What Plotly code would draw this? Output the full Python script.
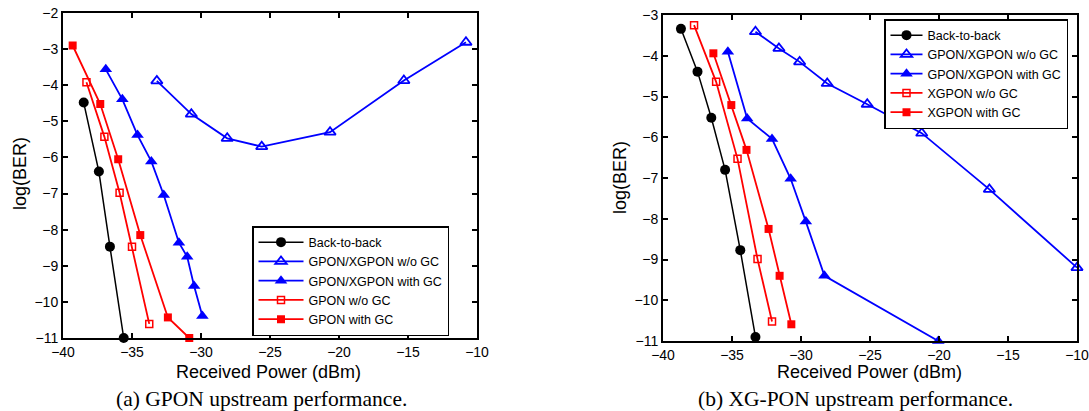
import plotly.graph_objects as go

# ---------------- data: (a) GPON upstream ----------------
a_b2b_x = [-38.5, -37.4, -36.6, -35.6]
a_b2b_y = [-4.48, -6.39, -8.47, -11.0]

a_gx_wo_x = [-33.2, -30.7, -28.1, -25.6, -20.65, -15.3, -10.8]
a_gx_wo_y = [-3.88, -4.80, -5.47, -5.70, -5.30, -3.87, -2.81]

a_gx_w_x = [-36.9, -35.7, -34.6, -33.6, -32.7, -31.6, -31.0, -30.5, -29.9]
a_gx_w_y = [-3.56, -4.39, -5.38, -6.11, -7.04, -8.36, -8.75, -9.56, -10.39]

a_g_wo_x = [-38.3, -37.0, -35.9, -35.0, -33.75]
a_g_wo_y = [-3.92, -5.43, -6.98, -8.47, -10.61]

a_g_w_x = [-39.3, -37.3, -36.0, -34.4, -32.4, -30.85]
a_g_w_y = [-2.90, -4.52, -6.05, -8.15, -10.43, -11.0]

# ---------------- data: (b) XG-PON upstream ----------------
b_b2b_x = [-38.7, -37.5, -36.5, -35.5, -34.4, -33.3]
b_b2b_y = [-3.34, -4.39, -5.52, -6.80, -8.77, -10.90]

b_gx_wo_x = [-33.3, -31.6, -30.1, -28.1, -25.2, -21.25, -16.35, -10.0]
b_gx_wo_y = [-3.41, -3.82, -4.15, -4.68, -5.19, -5.90, -7.28, -9.20]

b_gx_w_x = [-35.3, -33.9, -32.1, -30.75, -29.65, -28.3, -20.05]
b_gx_w_y = [-3.90, -5.54, -6.04, -7.02, -8.07, -9.40, -11.0]

b_x_wo_x = [-37.75, -36.15, -34.6, -33.15, -32.1]
b_x_wo_y = [-3.25, -4.64, -6.53, -8.99, -10.52]

b_x_w_x = [-36.35, -35.05, -33.95, -32.35, -31.55, -30.7]
b_x_w_y = [-3.94, -5.21, -6.31, -8.25, -9.40, -10.59]

names_a = ["Back-to-back", "GPON/XGPON w/o GC", "GPON/XGPON with GC",
           "GPON w/o GC", "GPON with GC"]
names_b = ["Back-to-back", "GPON/XGPON w/o GC", "GPON/XGPON with GC",
           "XGPON w/o GC", "XGPON with GC"]

x_ticks = [-40, -35, -30, -25, -20, -15, -10]

BLUE = "#0000FF"
RED = "#FF0000"
BLACK = "#000000"

styles = [
    dict(color=BLACK, symbol="circle", size=10, lw=1.5, mlw=0),
    dict(color=BLUE, symbol="triangle-up-open", size=10, lw=1.8, mlw=1.8),
    dict(color=BLUE, symbol="triangle-up", size=11, lw=1.8, mlw=0),
    dict(color=RED, symbol="square-open", size=7, lw=1.8, mlw=1.5),
    dict(color=RED, symbol="square", size=8, lw=1.8, mlw=0),
]

fig = go.Figure()

series_a = [(a_b2b_x, a_b2b_y), (a_gx_wo_x, a_gx_wo_y), (a_gx_w_x, a_gx_w_y),
            (a_g_wo_x, a_g_wo_y), (a_g_w_x, a_g_w_y)]
series_b = [(b_b2b_x, b_b2b_y), (b_gx_wo_x, b_gx_wo_y), (b_gx_w_x, b_gx_w_y),
            (b_x_wo_x, b_x_wo_y), (b_x_w_x, b_x_w_y)]

for (xs, ys), nm, st in zip(series_a, names_a, styles):
    fig.add_trace(go.Scatter(
        x=xs, y=ys, name=nm, mode="lines+markers", xaxis="x", yaxis="y",
        legend="legend", cliponaxis=False,
        line=dict(color=st["color"], width=st["lw"]),
        marker=dict(color=st["color"], symbol=st["symbol"], size=st["size"],
                    line=dict(color=st["color"], width=st["mlw"]))))

for (xs, ys), nm, st in zip(series_b, names_b, styles):
    fig.add_trace(go.Scatter(
        x=xs, y=ys, name=nm, mode="lines+markers", xaxis="x2", yaxis="y2",
        legend="legend2", cliponaxis=False,
        line=dict(color=st["color"], width=st["lw"]),
        marker=dict(color=st["color"], symbol=st["symbol"], size=st["size"],
                    line=dict(color=st["color"], width=st["mlw"]))))

W, H = 1089, 411

def px(v):
    return v / W

def py(v):
    return 1 - v / H

axis_common = dict(
    showline=True, linecolor="black", linewidth=2, mirror="ticks",
    ticks="inside", ticklen=5, tickwidth=1.5, tickcolor="black",
    showgrid=False, zeroline=False, automargin=False,
    ticklabeloverflow="allow",
    tickfont=dict(family="Liberation Sans, Arial, sans-serif", size=14, color="black"),
)

legend_common = dict(
    bgcolor="white", bordercolor="black", borderwidth=1.5,
    font=dict(family="Liberation Sans, Arial, sans-serif", size=12.5, color="black"),
    xanchor="left", yanchor="top", tracegroupgap=0,
)

fig.update_layout(
    width=W, height=H,
    margin=dict(l=0, r=0, t=0, b=0, autoexpand=False),
    paper_bgcolor="white", plot_bgcolor="white",
    xaxis=dict(domain=[px(63), px(477)], range=[-40, -10], tickvals=x_ticks,
               anchor="y", **axis_common),
    yaxis=dict(domain=[py(338), py(13)], range=[-11, -2], dtick=1,
               anchor="x", **axis_common),
    xaxis2=dict(domain=[px(663), px(1077)], range=[-40, -10], tickvals=x_ticks,
                anchor="y2", **axis_common),
    yaxis2=dict(domain=[py(341), py(15)], range=[-11, -3], dtick=1,
                anchor="x2", **axis_common),
    legend=dict(x=px(252), y=py(226), itemwidth=45, **legend_common),
    legend2=dict(x=px(884), y=py(19), itemwidth=32, **legend_common),
    showlegend=True,
)

sans = dict(family="Liberation Sans, Arial, sans-serif", size=18, color="black")
serif = dict(family="Liberation Serif, Times New Roman, serif", size=21.5, color="black")

annots = [
    dict(text="Received Power (dBm)", x=px(268), y=py(372), font=sans),
    dict(text="Received Power (dBm)", x=px(869), y=py(372), font=sans),
    dict(text="(a) GPON upstream performance.", x=px(261), y=py(399), font=serif),
    dict(text="(b) XG-PON upstream performance.", x=px(855), y=py(399), font=serif),
    dict(text="log(BER)", x=px(20), y=py(174), font=sans, textangle=-90),
    dict(text="log(BER)", x=px(620), y=py(178), font=sans, textangle=-90),
]
for an in annots:
    fig.add_annotation(xref="paper", yref="paper", showarrow=False,
                       xanchor="center", yanchor="middle", **an)

fig.write_html(
    "out.html",
    config={"displayModeBar": False},
    post_script="document.body.style.margin='0';document.body.style.padding='0';"
                "document.body.style.overflow='hidden';",
)
